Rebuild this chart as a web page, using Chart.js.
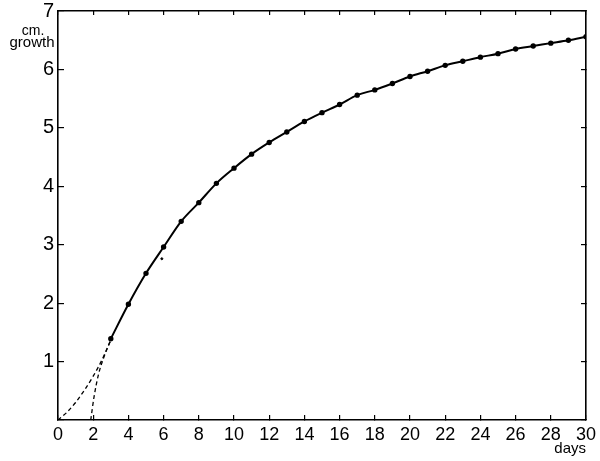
<!DOCTYPE html>
<html>
<head>
<meta charset="utf-8">
<script src="https://cdn.jsdelivr.net/npm/chart.js@4/dist/chart.umd.min.js"></script>
<style>
  html, body { margin: 0; padding: 0; background: #fff; }
  #wrap { width: 600px; height: 461px; position: relative; }
</style>
</head>
<body>
<div id="wrap"><canvas id="c" width="600" height="461"></canvas></div>
<script>
// ---- data ----
const days = [3,4,5,6,7,8,9,10,11,12,13,14,15,16,17,18,19,20,21,22,23,24,25,26,27,28,29,30];
const growth = [1.39,1.98,2.51,2.96,3.40,3.72,4.05,4.31,4.55,4.75,4.93,5.11,5.26,5.40,5.56,5.65,5.76,5.88,5.97,6.07,6.14,6.21,6.27,6.35,6.40,6.45,6.50,6.56];
// dashed extrapolation from origin
const dashAX = [0, 0.5, 1, 1.5, 2, 2.5, 3];
const dashAY = [0, 0.13, 0.30, 0.51, 0.75, 1.03, 1.37];
// dashed extrapolation from x-intercept near day 2
const dashBX = [1.86, 2.05, 2.3, 2.6, 3];
const dashBY = [0, 0.40, 0.78, 1.07, 1.37];
// stray point
const strayX = [5.9];
const strayY = [2.76];
const xTicks = [0,2,4,6,8,10,12,14,16,18,20,22,24,26,28,30];
const yTicks = [0,1,2,3,4,5,6,7];
const xTitle = 'days';
const yTitle = ['cm.', 'growth'];

const pts = (xs, ys) => xs.map((x, i) => ({x, y: ys[i]}));

const labelPlugin = {
  id: 'ylabel',
  afterDraw(chart) {
    const ctx = chart.ctx;
    ctx.save();
    ctx.fillStyle = '#000';
    ctx.textAlign = 'center';
    ctx.textBaseline = 'alphabetic';
    ctx.font = '14px "Liberation Sans", Arial, sans-serif';
    ctx.fillText(yTitle[0], 33, 35);
    ctx.font = '15px "Liberation Sans", Arial, sans-serif';
    ctx.fillText(yTitle[1], 32, 47);
    ctx.restore();
  }
};

const font = '"Liberation Sans", Arial, sans-serif';
new Chart(document.getElementById('c'), {
  type: 'scatter',
  data: {
    datasets: [
      {
        data: pts(days, growth),
        showLine: true,
        borderColor: '#000',
        backgroundColor: '#000',
        borderWidth: 2,
        pointRadius: 1.7,
        pointHoverRadius: 1.7,
        cubicInterpolationMode: 'monotone',
        xAxisID: 'x', yAxisID: 'y'
      },
      {
        data: pts(dashAX, dashAY),
        showLine: true,
        borderColor: '#000',
        borderWidth: 1.3,
        borderDash: [4, 3],
        pointRadius: 0,
        cubicInterpolationMode: 'monotone',
        xAxisID: 'x', yAxisID: 'y'
      },
      {
        data: pts(dashBX, dashBY),
        showLine: true,
        borderColor: '#000',
        borderWidth: 1.3,
        borderDash: [4, 3],
        pointRadius: 0,
        cubicInterpolationMode: 'monotone',
        xAxisID: 'x', yAxisID: 'y'
      },
      {
        data: pts(strayX, strayY),
        showLine: false,
        backgroundColor: '#000',
        borderColor: '#000',
        pointRadius: 1,
        xAxisID: 'x', yAxisID: 'y'
      }
    ]
  },
  options: {
    responsive: false,
    devicePixelRatio: 1,
    animation: false,
    events: [],
    layout: { padding: { left: 0, right: 14, top: 11, bottom: 0 } },
    plugins: { legend: { display: false }, tooltip: { enabled: false } },
    scales: {
      x: {
        type: 'linear', position: 'bottom', min: 0, max: 30,
        afterBuildTicks: s => { s.ticks = xTicks.map(v => ({value: v})); },
        ticks: { color: '#000', font: { family: font, size: 18 }, padding: 9, maxRotation: 0, autoSkip: false },
        grid: { drawOnChartArea: false, color: '#000', lineWidth: 1.2, tickLength: -5 },
        border: { color: '#000', width: 1.6 },
        title: { display: true, text: xTitle, align: 'end', color: '#000', font: { family: font, size: 15 }, padding: { top: 0, bottom: 3 } },
        afterFit: s => { s.height = 41; s.paddingLeft = 0; s.paddingRight = 0; }
      },
      y: {
        type: 'linear', position: 'left', min: 0, max: 7,
        afterBuildTicks: s => { s.ticks = yTicks.map(v => ({value: v})); },
        ticks: { color: '#000', font: { family: font, size: 20 }, padding: 10, callback: v => (v === 0 ? '' : String(v)) },
        grid: { drawOnChartArea: false, color: '#000', lineWidth: 1.2, tickLength: -6 },
        border: { color: '#000', width: 1.6 },
        afterFit: s => { s.width = 58; s.paddingTop = 0; s.paddingBottom = 0; }
      },
      x2: {
        type: 'linear', position: 'top', min: 0, max: 30,
        afterBuildTicks: s => { s.ticks = xTicks.map(v => ({value: v})); },
        ticks: { display: false },
        grid: { drawOnChartArea: false, color: '#000', lineWidth: 1.2, tickLength: -4 },
        border: { color: '#000', width: 1.4 },
        afterFit: s => { s.height = 0; s.paddingLeft = 0; s.paddingRight = 0; }
      },
      y2: {
        type: 'linear', position: 'right', min: 0, max: 7,
        afterBuildTicks: s => { s.ticks = yTicks.map(v => ({value: v})); },
        ticks: { display: false },
        grid: { drawOnChartArea: false, color: '#000', lineWidth: 1.2, tickLength: -5 },
        border: { color: '#000', width: 1.6 },
        afterFit: s => { s.width = 0; s.paddingTop = 0; s.paddingBottom = 0; }
      }
    }
  },
  plugins: [labelPlugin]
});
</script>
</body>
</html>
